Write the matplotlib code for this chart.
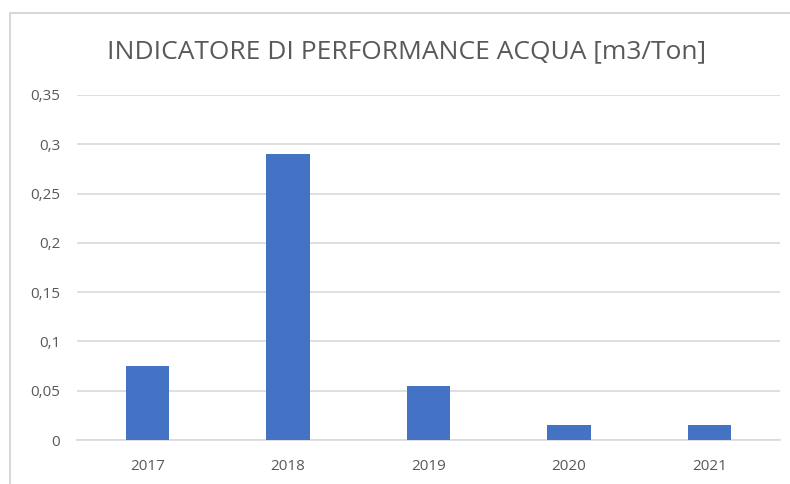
import matplotlib.pyplot as plt
from matplotlib.patches import Rectangle
from matplotlib.ticker import FuncFormatter

# Water performance indicator per year
years = ['2017', '2018', '2019', '2020', '2021']
values = [0.075, 0.29, 0.055, 0.015, 0.015]
yticks = [0, 0.05, 0.1, 0.15, 0.2, 0.25, 0.3, 0.35]

bar_color = '#4472C4'
text_color = '#595959'
grid_color = '#D9D9D9'

W, H = 790, 484
fig = plt.figure(figsize=(W / 100, H / 100), dpi=100)
plt.rcParams['font.family'] = ['Open Sans', 'DejaVu Sans']

# chart frame (left and top edges visible, rest runs off the image)
fig.patches.append(Rectangle((10 / W, -0.1), 1.2, 1.1 - 13 / H,
                             transform=fig.transFigure, fill=False,
                             edgecolor='#D0D0D0', linewidth=1.2))

ax = fig.add_axes([77 / W, 1 - 440 / H, (780 - 77) / W, (440 - 95) / H])
x = range(len(years))
ax.bar(x, values, width=0.31, color=bar_color, zorder=3)

ax.set_xlim(-0.5, len(years) - 0.5)
ax.set_ylim(0, 0.35)
ax.set_yticks(yticks)
ax.yaxis.set_major_formatter(FuncFormatter(lambda v, p: ('%g' % round(v, 2)).replace('.', ',')))
ax.set_xticks(list(x))
ax.set_xticklabels(years)
ax.grid(axis='y', color=grid_color, linewidth=1.2, zorder=0)
for s in ['top', 'right', 'left']:
    ax.spines[s].set_visible(False)
ax.spines['bottom'].set_color(grid_color)
ax.spines['bottom'].set_linewidth(1.2)
ax.tick_params(axis='both', length=0, labelsize=11, colors=text_color)
ax.tick_params(axis='y', pad=12)
ax.tick_params(axis='x', pad=14)

fig.text(407 / W, 1 - 52 / H, 'INDICATORE DI PERFORMANCE ACQUA [m3/Ton]',
         ha='center', va='center', fontsize=19, color=text_color)

fig.savefig('out.png', dpi=100)
